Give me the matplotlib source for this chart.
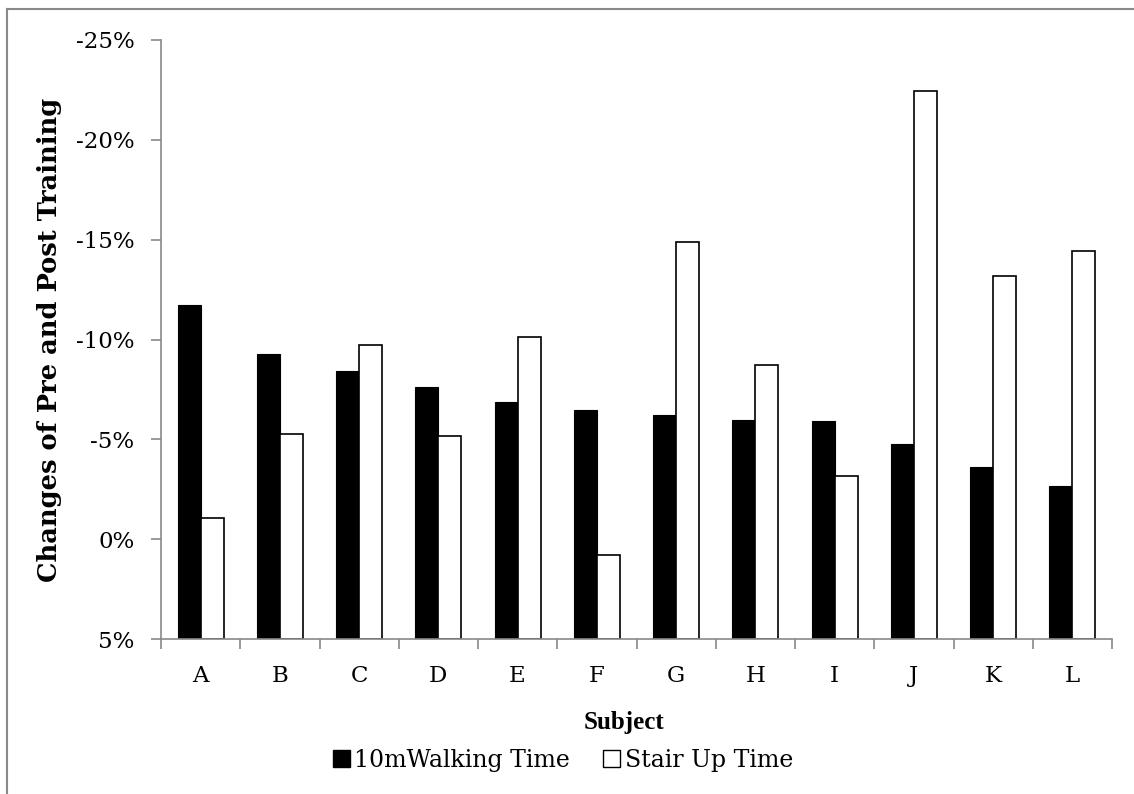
import numpy as np
import matplotlib
matplotlib.use('Agg')
import matplotlib.pyplot as plt
from matplotlib.patches import Patch
from matplotlib.lines import Line2D

# data (percent change, negative = faster)
subjects = ['A', 'B', 'C', 'D', 'E', 'F', 'G', 'H', 'I', 'J', 'K', 'L']
walking = [-11.75, -9.25, -8.43, -7.63, -6.85, -6.45, -6.24, -5.99, -5.91, -4.76, -3.59, -2.64]
stair = [-1.05, -5.29, -9.70, -5.19, -10.12, 0.80, -14.86, -8.71, -3.15, -22.45, -13.19, -14.42]
yticks = [-25, -20, -15, -10, -5, 0, 5]
ytick_labels = ['-25%', '-20%', '-15%', '-10%', '-5%', '0%', '5%']

plt.rcParams['font.family'] = ['DejaVu Serif']
W, H = 1134, 794
fig = plt.figure(figsize=(W / 100, H / 100), dpi=100)
ax = fig.add_axes([161 / W, 1 - 639 / H, (1112 - 161) / W, (639 - 40) / H])

gray = '#898989'
x = np.arange(len(subjects))
bw = 0.29
base = 5  # bars grow from the bottom of the (reversed) axis
ax.bar(x - bw / 2, np.array(walking) - base, bw, bottom=base, color='black',
       edgecolor='black', linewidth=0.8)
ax.bar(x + bw / 2, np.array(stair) - base, bw, bottom=base, color='white',
       edgecolor='black', linewidth=1.2)

ax.set_xlim(-0.5, len(subjects) - 0.5)
ax.set_ylim(5, -25)
ax.set_yticks(yticks)
ax.set_yticklabels(ytick_labels, fontsize=16.5)
ax.set_xticks(x)
ax.set_xticklabels(subjects, fontsize=16.5)
ax.set_xticks(np.arange(len(subjects) + 1) - 0.5, minor=True)
ax.tick_params(axis='x', which='major', length=0, pad=19)
ax.tick_params(axis='x', which='minor', length=7, width=1.2, color=gray, direction='out')
ax.tick_params(axis='y', length=7, width=1.2, color=gray, direction='out', pad=12)

for s in ['top', 'right']:
    ax.spines[s].set_visible(False)
for s in ['left', 'bottom']:
    ax.spines[s].set_color(gray)
    ax.spines[s].set_linewidth(1.2)

ax.set_ylabel('Changes of Pre and Post Training', fontsize=18.5, fontweight='bold')
ax.yaxis.set_label_coords((62 - 161) / (1112 - 161), 0.5)
fig.text(624 / W, 1 - 723 / H, 'Subject', fontsize=18, fontweight='bold',
         family='Liberation Serif', ha='center', va='center')

handles = [Patch(facecolor='black', edgecolor='black'),
           Patch(facecolor='white', edgecolor='black')]
fig.legend(handles, ['10mWalking Time', 'Stair Up Time'], loc='center',
           bbox_to_anchor=(563 / W, 1 - 760 / H), ncol=2, frameon=False,
           fontsize=17, handlelength=0.7, handleheight=0.7, handletextpad=0.2,
           columnspacing=1.4)

# outer chart border (only top and left visible in the crop)
fig.add_artist(Line2D([7 / W, 7 / W], [0, 1 - 9 / H], color=gray, lw=1.5))
fig.add_artist(Line2D([7 / W, 1], [1 - 9 / H, 1 - 9 / H], color=gray, lw=1.5))

fig.savefig('out.png', dpi=100)
